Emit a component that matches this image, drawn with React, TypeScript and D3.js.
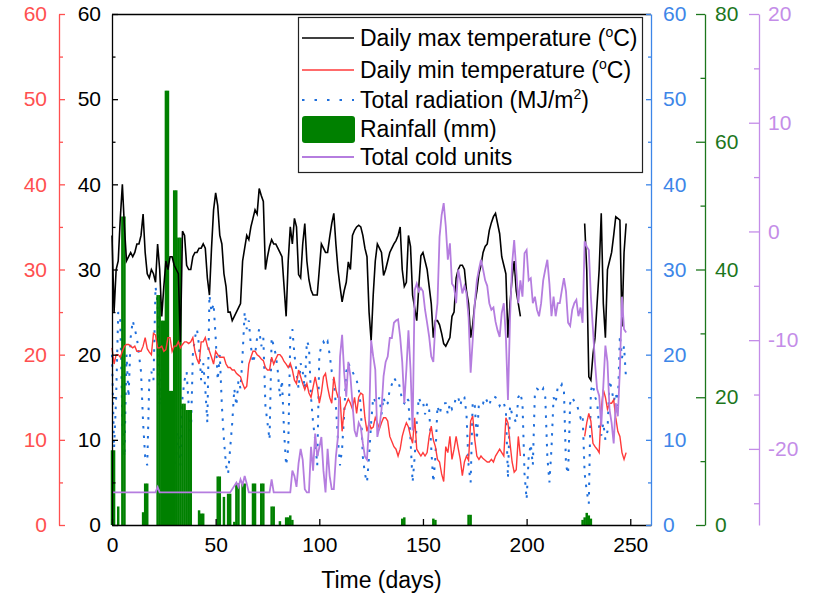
import React, { useEffect, useRef } from "react";
import * as d3 from "d3";

// daily series, index = day (0..248); null = no record
const maxTemp: (number | null)[] = [
  34, 25, 30, 31, 36, 40, 35, 31, 31.5, 32,
  31.5, 32, 33, 33, 34, 36.5, 32, 29.5, 29, 30,
  29.5, 28.5, 33, 30, 24.5, 28, 31, 30, 31.5, 31.5,
  30.5, 30, 29.5, 21.5, 34.5, 34, 30.5, 30, 30, 31.5,
  32, 32, 32.5, 32.5, 33, 32.5, 29, 27, 32.5, 37,
  39, 37.5, 34, 33, 29.5, 28, 25, 25, 24, 24.5,
  25, 25.5, 26, 31, 32.5, 34, 33.5, 35, 36, 37,
  36.5, 39.5, 38.7, 38, 30, 31.5, 32.7, 33.5, 33, 33,
  32.5, 32, 31.5, 28, 24.5, 31, 35, 33, 36, 35,
  29.4, 29, 33, 35.4, 31, 28.8, 27.6, 27, 27, 27,
  30, 33, 32.5, 32, 32, 33.8, 35.4, 36.6, 33, 30,
  28, 26.2, 27.5, 28.5, 30.9, 30, 34, 34.6, 35, 35.2,
  35, 34, 32.5, 31.5, 25, 21.6, 27, 31, 33, 32.5,
  32, 29.3, 30, 31, 32, 32.5, 33, 33.4, 34, 35,
  30, 28, 28.5, 34, 32.7, 27, 25.5, 24, 28, 31.6,
  32, 31, 30, 28, 26, 22, 24, 24, 23.5, 22.5,
  21.3, 21, 21.5, 22, 24.5, 25, 29, 30, 30.5, 30.5,
  30, 27.5, 26, 22, 23.5, 26, 27.5, 29.5, 30.5, 32,
  32.7, 33, 34.6, 35.5, 36.2, 36.6, 35.4, 34.2, 31.5, 30.5,
  29.5, 22, 26, 29, 31, 27.5, 26, 24.5, null, null,
  null, null, null, null, null, null, null, null, null, null,
  null, null, null, null, null, null, null, null, null, null,
  null, null, null, null, null, null, null, null, 35.4, 30,
  17.4, 17, 20, 22, 26, 30, 36.6, 26, 22, 30,
  31, 32, 34, 36.2, 36, 35.8, 23.3, 32, 35.4,
];

const minTemp: (number | null)[] = [
  20.8, 18.9, 20, 20, 19.7, 20.4, 21, 21.2, 21.2, 21,
  20.8, 21, 20.4, 20.4, 20.4, 21, 22, 20.7, 20.3, 20,
  22.5, 22.3, 20.8, 20.8, 21, 20.4, 20.6, 22, 22, 20.4,
  21, 21, 21.5, 20.8, 21.2, 21.5, 21.5, 21.3, 21.5, 22,
  20.4, 19.5, 18.9, 21.5, 21.5, 22, 21, 20.4, 19.7, 18.9,
  20.4, 20, 19.7, 19.7, 19.7, 18.9, 18.5, 18.5, 18.2, 18.2,
  17.8, 17.6, 17.4, 16.6, 16, 16.3, 18.9, 19.7, 20.4, 20.4,
  20, 19.8, 19.5, 19.3, 18.5, 18.2, 18.2, 19.7, 18.9, 19.5,
  20, 20, 19.7, 19.2, 18.9, 18.5, 19, 18.2, 17, 16.6,
  18.2, 17.4, 16.6, 15.9, 16.6, 15.5, 15, 16.2, 17.4, 16.2,
  14.3, 15.5, 17.4, 17.8, 16.2, 15, 14.3, 17.4, 15.9, 15,
  15, 11, 13.6, 14.2, 14.8, 14.3, 13.6, 15, 13.1, 15,
  15.5, 15.3, 12.6, 11, 12, 11.3, 11.5, 12.6, 12, 11.3,
  12, 12.6, 12.6, 12.2, 10.4, 9.8, 9.2, 8.9, 8.1, 8.9,
  10.4, 11.3, 12, 11.5, 10.4, 9.6, 12.6, 8.9, 8.5, 8.1,
  8.5, 8.1, 8.5, 10.4, 11.6, 10, 9.2, 7.7, 7.4, 6,
  5.1, 9.2, 8.5, 10.4, 7.7, 8.9, 10.4, 9, 7.7, 5.8,
  7.4, 8.1, 7.6, 12.2, 12.8, 10, 8.1, 7.7, 8.1, 7.8,
  7.6, 7.4, 7.4, 7.7, 7.4, 8.1, 8.5, 8.9, 8.5, 8.1,
  12.6, 12, 9.6, 7.4, 6.2, 6.5, 10.4, 8.1, null, null,
  null, null, null, null, null, null, null, null, null, null,
  null, null, null, null, null, null, null, null, null, null,
  null, null, null, null, null, null, null, null, 10.4, 12,
  13.1, 12.2, 9.6, 9.2, 8.9, 8.5, 13.6, 15.9, 15, 13.6,
  14.3, 14.3, 14.7, 12.6, 11, 10.4, 8.5, 7.7, 8.5,
];

const radiation: number[] = [
  20, 9, 15, 25, 24, 12, 8, 20, 15, 22,
  24, 23, 22, 20, 18, 12, 8, 7, 17, 18,
  17, 28, 26, 14, 19, 16, 20, 8, 6, 10,
  6, 8, 11, 7, 15, 17, 18, 14, 10, 20,
  22, 23, 21, 17, 19, 16, 12, 27, 25, 26,
  22, 17, 20, 14, 10, 7, 6, 9, 12, 16,
  14, 17, 16, 20, 25, 23, 24, 21, 19, 20,
  22, 23, 21, 22, 14, 12, 10, 22, 21, 20,
  18, 15, 17, 11, 7, 9, 22, 23, 20, 18,
  16, 19, 18, 16, 21.6, 21, 15, 12, 10, 7,
  20, 21, 21.5, 21, 21.5, 20, 18, 17, 14, 10,
  7, 9, 13, 18, 19, 18.5, 18, 17.5, 17, 16,
  14, 8, 6, 5, 8, 12, 15, 14.5, 14.3, 15,
  13, 15, 14, 14.3, 16, 16.5, 17.3, 16.9, 17, 16,
  14.5, 14.3, 15, 14.6, 10, 5, 8, 12, 15, 14.3,
  14.5, 13, 14.3, 13.5, 9, 5, 8, 14, 13, 14,
  14.3, 14.3, 13, 14.3, 13.6, 14, 15.1, 15, 14, 15.1,
  15, 13, 7, 5, 14.5, 14, 10, 14.3, 14.5, 14.3,
  15, 14.5, 14, 15, 15.1, 15, 14.5, 14, 14.5, 14.3,
  13.5, 5.5, 14, 13, 12.5, 12, 15, 15.5, 14.3, 6,
  3, 8, 9.5, 7, 15.5, 16, 15.8, 15.5, 16, 15,
  8, 5, 9, 15, 14.3, 16.2, 16, 16.5, 15.8, 7,
  6, 14.3, 15, 14.5, 14.3, 13.5, 12.6, 13, 6, 4,
  2.5, 15.8, 16.5, 15, 14.5, 11.5, 10.5, 12, 10, 11,
  17, 16, 14.5, 15.5, 14, 22.3, 19.6, 21, 17,
];

const coldUnits: number[] = [
  -24, -24, -24, -24, -24, -24, -24, -24, -24, -24,
  -24, -24, -24, -24, -24, -24, -24, -24, -24, -24,
  -24, -24, -23.5, -24, -24, -24, -24, -24, -24, -24,
  -24, -24, -24, -24, -24, -24, -24, -24, -24, -24,
  -24, -24, -24, -24, -24, -24, -24, -24, -24, -24,
  -24, -24, -24, -24, -24, -24, -24, -24, -23.7, -23.4,
  -23.1, -23.5, -22.8, -23.3, -22.5, -23.2, -24, -24, -24, -24,
  -24, -24, -24, -24, -24, -24, -24, -22.8, -24, -24,
  -24, -24, -24, -24, -24, -24, -24, -22, -22.5, -23.5,
  -21.3, -20, -21, -23.7, -24, -24, -19.8, -22, -18.6, -20.7,
  -19.9, -18.9, -22, -24, -20, -22.5, -23.7, -23.7, -20.7, -18.9,
  -11.5, -9.5, -13, -15.2, -12, -13.3, -15.8, -18.3, -18.9, -17.6,
  -18, -19.5, -20.7, -21, -17.6, -10, -11.5, -12.7, -18.9, -18,
  -16.4, -13.3, -12, -11.5, -9.8, -9.8, -8.4, -8.2, -8.1, -9.7,
  -12, -15.8, -12.7, -9.1, -12.7, -18.3, -5.4, -4.8, -5.5, -5.2,
  -5.5, -7.2, -8.4, -9.7, -11.5, -12, -8.4, -6.6, -0.5, 1.5,
  2.6, 0.5, -2.6, -1.1, -4.8, -5.1, -6.6, -3.5, -4.5, -5.7,
  -5, -5.7, -7.9, -13, -10, -6.6, -4.5, -3.5, -2.6, -3.5,
  -4.5, -5, -6.6, -7.2, -7, -8.3, -9.1, -9.7, -7.5, -6.6,
  -9.7, -15.5, -8, -3, -0.8, -3.5, -6.6, -4.5, -6, -2,
  -1.7, -4.5, -4.3, -6.6, -6, -7.2, -7.8, -6.6, -4.5, -3.5,
  -2.6, -4.8, -7.8, -6, -7.8, -6.6, -6.6, -5.4, -4.3, -5.5,
  -8.4, -8.7, -7.2, -6.6, -6.3, -7.8, -7, -8.4, -0.9, -1.4,
  -1.7, -6, -9, -12.1, -14.5, -15.1, -17.9, -14.2, -10.5, -12,
  -16.4, -17.6, -19.5, -15.8, -17, -12.7, -6, -9, -9.3,
];

const rainDays = [
  0, 1, 3, 5, 6, 15, 16, 17, 22, 23, 24, 25, 26, 27, 28, 29, 30, 31, 32, 33,
  34, 35, 36, 37, 38, 42, 43, 44, 51, 52, 54, 56, 57, 59, 60, 61, 63, 64, 68, 69,
  72, 73, 77, 78, 81, 84, 85, 86, 87, 140, 141, 155, 156, 172, 173, 227, 228, 229, 230, 231,
];
const rainMm = [
  11.7, 11.7, 2.9, 48.3, 48.3, 2, 6.5, 6.5, 36, 36, 32, 32, 68, 68, 21, 21, 52.4, 52.4, 45, 45,
  19, 19, 18, 18, 18, 2.3, 1.8, 1.8, 7.6, 7.6, 4.4, 4.9, 4.9, 0.5, 6.5, 6.5, 6.5, 6.5, 6.5, 6.5,
  6.5, 6.5, 2.9, 2.9, 0.6, 1.2, 1.2, 1.5, 0.8, 1, 1.2, 1, 0.8, 1.6, 1.6, 0.8, 1.2, 1.9, 1.5, 1,
];

const xTicks = [0, 50, 100, 150, 200, 250];
const tempTicks = [0, 10, 20, 30, 40, 50, 60];
const tempMinor = [5, 15, 25, 35, 45, 55];
const rainTicks = [0, 20, 40, 60, 80];
const rainMinor = [10, 30, 50, 70];
const coldTicks = [-20, -10, 0, 10, 20];
const coldMinor = [-25, -15, -5, 5, 15];

const W = 821;
const H = 598;
const P = { left: 112, right: 651, top: 14, bottom: 525 };
const FONT = "'Liberation Sans', Arial, Helvetica, sans-serif";

const C = {
  max: "#000000",
  min: "#ff3a3a",
  rad: "#1f6fdc",
  rain: "#008000",
  cold: "#b57ddf",
  redAxis: "#ff5050",
  blueAxis: "#3d86e8",
  greenAxis: "#1c761c",
  purpleAxis: "#c48de8",
};

export default function App() {
  const svgRef = useRef<SVGSVGElement>(null);

  useEffect(() => {
    const svg = d3.select(svgRef.current);
    svg.selectAll("*").remove();

    const x = d3.scaleLinear().domain([0, 260]).range([P.left, P.right]);
    const yT = d3.scaleLinear().domain([0, 60]).range([P.bottom, P.top]);
    const yR = d3.scaleLinear().domain([0, 80]).range([P.bottom, P.top]);
    const yC = d3.scaleLinear().domain([-27, 20]).range([P.bottom, P.top]);

    const styleAxis = (g: any, color: string) => {
      g.select(".domain").attr("stroke", color).attr("stroke-width", 1.3);
      g.selectAll(".tick line").attr("stroke", color).attr("stroke-width", 1.3);
      g.selectAll(".tick text")
        .attr("fill", color)
        .attr("font-size", 21)
        .attr("font-family", FONT);
    };

    const addAxis = (tx: number, ty: number, gen: any, minorGen: any, color: string) => {
      const g = svg.append("g").attr("transform", `translate(${tx},${ty})`).call(gen);
      styleAxis(g, color);
      if (minorGen) {
        const m = svg.append("g").attr("transform", `translate(${tx},${ty})`).call(minorGen);
        m.select(".domain").remove();
        m.selectAll(".tick line").attr("stroke", color).attr("stroke-width", 1.3);
      }
    };

    const lineT = d3.line<number | null>()
      .defined((d) => d != null)
      .x((_, i) => x(i))
      .y((d) => yT(d as number));

    // radiation sits underneath the rainfall bars
    svg.append("path")
      .attr("d", lineT(radiation))
      .attr("fill", "none")
      .attr("stroke", C.rad)
      .attr("stroke-width", 2)
      .attr("stroke-dasharray", "2.5,7");

    // rainfall bars (slightly wider than a day so neighbours merge)
    const bw = (x(1) - x(0)) + 0.4;
    svg.append("g")
      .selectAll("rect")
      .data(rainDays)
      .enter()
      .append("rect")
      .attr("x", (d) => x(d) - bw / 2)
      .attr("y", (_, i) => yR(rainMm[i]))
      .attr("width", bw)
      .attr("height", (_, i) => P.bottom - yR(rainMm[i]))
      .attr("fill", C.rain);

    svg.append("path")
      .attr("d", lineT(minTemp))
      .attr("fill", "none")
      .attr("stroke", C.min)
      .attr("stroke-width", 1.4);

    svg.append("path")
      .attr("d", lineT(maxTemp))
      .attr("fill", "none")
      .attr("stroke", C.max)
      .attr("stroke-width", 1.6);

    const lineC = d3.line<number>()
      .x((_, i) => x(i))
      .y((d) => yC(d));

    svg.append("path")
      .attr("d", lineC(coldUnits))
      .attr("fill", "none")
      .attr("stroke", C.cold)
      .attr("stroke-width", 1.8);

    // frame top
    svg.append("line")
      .attr("x1", P.left).attr("x2", P.right)
      .attr("y1", P.top + 0.5).attr("y2", P.top + 0.5)
      .attr("stroke", "#000").attr("stroke-width", 1.3);

    // axes
    addAxis(0, P.bottom, d3.axisBottom(x).tickValues(xTicks).tickSize(-6).tickSizeOuter(0).tickPadding(12), null, "#000");
    addAxis(P.left, 0,
      d3.axisLeft(yT).tickValues(tempTicks).tickSize(-6).tickSizeOuter(0).tickPadding(11),
      d3.axisLeft(yT).tickValues(tempMinor).tickSize(-3.5).tickFormat(() => ""), "#000");
    addAxis(59, 0,
      d3.axisLeft(yT).tickValues(tempTicks).tickSize(-6).tickSizeOuter(0).tickPadding(12),
      d3.axisLeft(yT).tickValues(tempMinor).tickSize(-4).tickFormat(() => ""), C.redAxis);
    addAxis(P.right, 0,
      d3.axisRight(yT).tickValues(tempTicks).tickSize(-5).tickSizeOuter(0).tickPadding(12),
      d3.axisRight(yT).tickValues(tempMinor).tickSize(-3).tickFormat(() => ""), C.blueAxis);
    addAxis(705, 0,
      d3.axisRight(yR).tickValues(rainTicks).tickSize(-9).tickSizeOuter(0).tickPadding(10),
      d3.axisRight(yR).tickValues(rainMinor).tickSize(-4.5).tickFormat(() => ""), C.greenAxis);
    addAxis(759, 0,
      d3.axisRight(yC).tickValues(coldTicks).tickSize(-10).tickSizeOuter(0).tickPadding(9).tickFormat((d: any) => (d < 0 ? "-" + Math.abs(d) : String(d))),
      d3.axisRight(yC).tickValues(coldMinor).tickSize(-5).tickFormat(() => ""), C.purpleAxis);

    // x title
    svg.append("text")
      .attr("x", (P.left + P.right) / 2)
      .attr("y", 588)
      .attr("text-anchor", "middle")
      .attr("font-size", 23)
      .attr("font-family", FONT)
      .attr("fill", "#000")
      .text("Time (days)");

    // legend
    const lg = svg.append("g");
    lg.append("rect")
      .attr("x", 298.5).attr("y", 17.5)
      .attr("width", 344).attr("height", 155)
      .attr("fill", "#fff").attr("stroke", "#222").attr("stroke-width", 1.2);

    const items = [
      { y: 38, kind: "line", color: C.max, dash: null, w: 1.6, label: ["Daily max temperature (", "o", "C)"] },
      { y: 70, kind: "line", color: C.min, dash: null, w: 1.4, label: ["Daily min temperature (", "o", "C)"] },
      { y: 100, kind: "line", color: C.rad, dash: "2.5,10", w: 2, label: ["Total radiation (MJ/m", "2", ")"] },
      { y: 129, kind: "rect", color: C.rain, dash: null, w: 0, label: ["Rainfall (mm)", "", ""] },
      { y: 157, kind: "line", color: C.cold, dash: null, w: 1.8, label: ["Total cold units", "", ""] },
    ];

    items.forEach((it) => {
      if (it.kind === "line") {
        lg.append("line")
          .attr("x1", 302).attr("x2", 354)
          .attr("y1", it.y).attr("y2", it.y)
          .attr("stroke", it.color)
          .attr("stroke-width", it.w)
          .attr("stroke-dasharray", it.dash);
      } else {
        lg.append("rect")
          .attr("x", 302).attr("y", it.y - 13)
          .attr("width", 53).attr("height", 27)
          .attr("rx", 3)
          .attr("fill", it.color);
      }
      const t = lg.append("text")
        .attr("x", 360)
        .attr("y", it.y + 8)
        .attr("font-size", 23)
        .attr("font-family", FONT)
        .attr("fill", "#000");
      t.append("tspan").text(it.label[0]);
      if (it.label[1]) {
        t.append("tspan").attr("font-size", 14).attr("dy", -9).text(it.label[1]);
        t.append("tspan").attr("dy", 9).text(it.label[2]);
      }
    });
  }, []);

  return (
    <svg
      ref={svgRef}
      width={W}
      height={H}
      style={{ position: "absolute", left: 0, top: 0, background: "#fff" }}
    />
  );
}
